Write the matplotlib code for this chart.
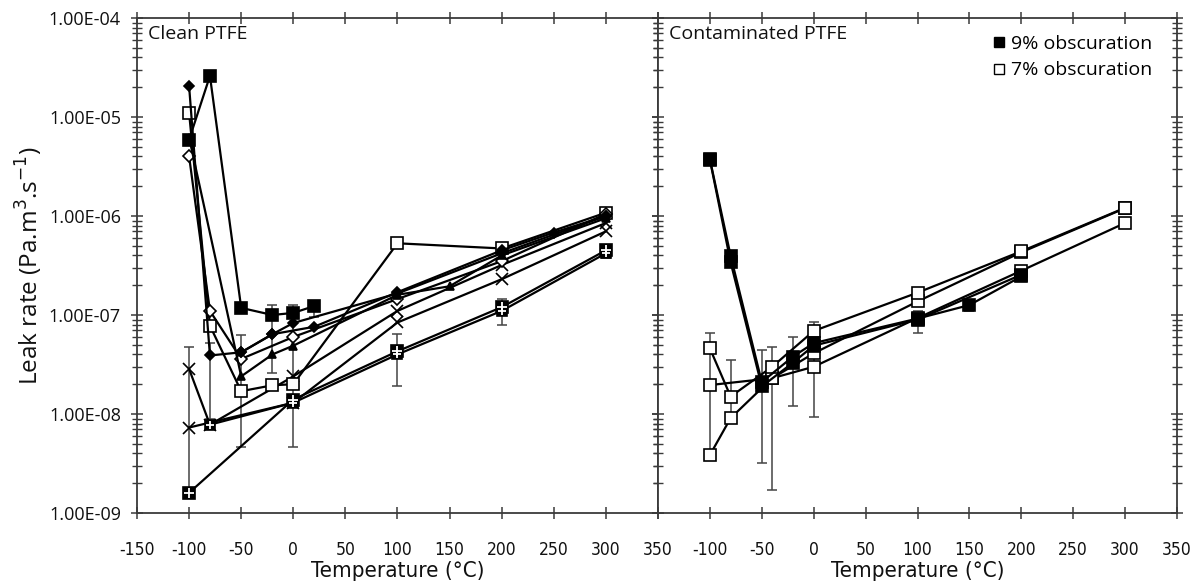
import matplotlib
matplotlib.use("Agg")
import matplotlib.pyplot as plt
from matplotlib.ticker import FixedLocator, FuncFormatter, LogLocator, NullFormatter
from matplotlib.lines import Line2D

plt.rcParams["axes.unicode_minus"] = False

# ---------------- data: Clean PTFE ----------------
clean_fsq_T = [-100, -80, -50, -20, 0, 20]
clean_fsq_v = [5.9e-6, 2.6e-5, 1.18e-7, 1.0e-7, 1.05e-7, 1.23e-7]

clean_fdia_T = [-100, -80, -50, -20, 20, 100, 200, 250, 300]
clean_fdia_v = [2.05e-5, 3.9e-8, 4.2e-8, 6.4e-8, 7.6e-8, 1.7e-7, 4.5e-7, 6.8e-7, 1.0e-6]

clean_fdia2_T = [-50, -20, 0, 100, 200, 300]
clean_fdia2_v = [4.2e-8, 6.4e-8, 8.3e-8, 1.65e-7, 4.2e-7, 1.0e-6]

clean_ftri_T = [-100, -50, -20, 0, 100, 150, 200, 300]
clean_ftri_v = [6.2e-6, 2.4e-8, 4.0e-8, 4.9e-8, 1.6e-7, 1.95e-7, 4.0e-7, 9.5e-7]

clean_odia_T = [-100, -80, -50, 0, 100, 200, 300]
clean_odia_v = [4.0e-6, 1.1e-7, 3.6e-8, 6.0e-8, 1.45e-7, 3.5e-7, 1.05e-6]

clean_osq_T = [-100, -80, -50, -20, 0, 100, 200, 300]
clean_osq_v = [1.1e-5, 7.8e-8, 1.7e-8, 1.95e-8, 2.0e-8, 5.3e-7, 4.7e-7, 1.08e-6]

clean_x_T = [-100, -80, 0, 100, 200, 300]
clean_x_v = [2.85e-8, 7.8e-9, 2.4e-8, 1.1e-7, 3.2e-7, 8.5e-7]

clean_ast_T = [-100, 0, 100, 200, 300]
clean_ast_v = [7.3e-9, 1.3e-8, 8.4e-8, 2.3e-7, 7.0e-7]

clean_plus_T = [-100, 0, 100, 200, 300]
clean_plus_v = [1.6e-9, 1.4e-8, 4.3e-8, 1.2e-7, 4.5e-7]

clean_plus2_T = [-80, 0, 100, 200, 300]
clean_plus2_v = [7.8e-9, 1.3e-8, 4.0e-8, 1.1e-7, 4.2e-7]

clean_err_T = [-100, -80, -50, -20, 0, 20, 100, 200, 300]
clean_err_lo = [1.6e-9, 9e-9, 4.6e-9, 2.6e-8, 4.6e-9, 9.5e-8, 1.9e-8, 8e-8, 3.8e-7]
clean_err_hi = [4.8e-8, 5.2e-8, 6.3e-8, 1.25e-7, 1.25e-7, 1.35e-7, 6.5e-8, 1.45e-7, 4.9e-7]

# ---------------- data: Contaminated PTFE ----------------
cont_f1_T = [-100, -80, -50, -20, 0, 100, 150, 200]
cont_f1_v = [3.74e-6, 3.95e-7, 2.1e-8, 3.8e-8, 5.2e-8, 9.2e-8, 1.26e-7, 2.45e-7]

cont_f2_T = [-100, -80, -50, -20, 0, 100, 200]
cont_f2_v = [3.7e-6, 3.4e-7, 1.9e-8, 3.3e-8, 4.9e-8, 9.0e-8, 2.55e-7]

cont_o1_T = [-100, -80, -40, 0, 100, 200, 300]
cont_o1_v = [4.6e-8, 1.5e-8, 3.0e-8, 6.9e-8, 1.68e-7, 4.4e-7, 1.21e-6]

cont_o2_T = [-100, -40, 0, 100, 200, 300]
cont_o2_v = [1.96e-8, 2.3e-8, 4.1e-8, 1.37e-7, 4.3e-7, 1.2e-6]

cont_o3_T = [-100, -80, -40, 0, 100, 200, 300]
cont_o3_v = [3.85e-9, 9.1e-9, 2.3e-8, 3.0e-8, 9.3e-8, 2.8e-7, 8.5e-7]

cont_err_T = [-100, -80, -50, -40, -20, 0, 100, 150]
cont_err_lo = [3.85e-9, 9e-9, 3.2e-9, 1.7e-9, 1.2e-8, 9.4e-9, 6.6e-8, 1.1e-7]
cont_err_hi = [6.6e-8, 3.5e-8, 4.4e-8, 4.8e-8, 6.0e-8, 8.5e-8, 1.1e-7, 1.4e-7]

x_ticks = [-150, -100, -50, 0, 50, 100, 150, 200, 250, 300, 350]
y_ticks = [1e-9, 1e-8, 1e-7, 1e-6, 1e-5, 1e-4]
panel_titles = ["Clean PTFE", "Contaminated PTFE"]
legend_labels = ["9% obscuration", "7% obscuration"]

# ---------------- figure ----------------
fig = plt.figure(figsize=(12.02, 5.87), dpi=100)
L, R, B, T = 137 / 1202, 1177 / 1202, 1 - 513 / 587, 1 - 18 / 587
mid = 658 / 1202
ax1 = fig.add_axes([L, B, mid - L, T - B])
ax2 = fig.add_axes([mid, B, R - mid, T - B])

NARROW = ["DejaVu Sans"]
SANS = ["Open Sans", "DejaVu Sans"]
spine_c = "#3a3a3a"


def styled(ax, T_, v_, marker, ms, mfc, extra_plus=False):
    ax.plot(T_, v_, color="black", lw=1.6, marker=marker, ms=ms, mfc=mfc,
            mec="black", mew=1.2, zorder=3)
    if extra_plus:
        ax.plot(T_, v_, ls="none", marker="+", ms=ms * 0.9, mec="white",
                mew=1.3, zorder=4)


def errs(ax, T_, lo, hi):
    ax.vlines(T_, lo, hi, color="#444444", lw=1.1, zorder=2)
    ax.plot(T_, lo, ls="none", marker="_", ms=7, mec="#444444", mew=1.1, zorder=2)
    ax.plot(T_, hi, ls="none", marker="_", ms=7, mec="#444444", mew=1.1, zorder=2)


# Clean panel
errs(ax1, clean_err_T, clean_err_lo, clean_err_hi)
styled(ax1, clean_plus_T, clean_plus_v, "s", 8, "black", extra_plus=True)
styled(ax1, clean_plus2_T, clean_plus2_v, "s", 7, "black", extra_plus=True)
styled(ax1, clean_ast_T, clean_ast_v, "x", 9, "white")
styled(ax1, clean_x_T, clean_x_v, "x", 9, "white")
styled(ax1, clean_osq_T, clean_osq_v, "s", 8, "white")
styled(ax1, clean_odia_T, clean_odia_v, "D", 6, "white")
styled(ax1, clean_ftri_T, clean_ftri_v, "^", 6, "black")
styled(ax1, clean_fdia2_T, clean_fdia2_v, "D", 5, "black")
styled(ax1, clean_fdia_T, clean_fdia_v, "D", 5, "black")
styled(ax1, clean_fsq_T, clean_fsq_v, "s", 9, "black")

# Contaminated panel
errs(ax2, cont_err_T, cont_err_lo, cont_err_hi)
styled(ax2, cont_o3_T, cont_o3_v, "s", 9, "white")
styled(ax2, cont_o2_T, cont_o2_v, "s", 9, "white")
styled(ax2, cont_o1_T, cont_o1_v, "s", 9, "white")
styled(ax2, cont_f2_T, cont_f2_v, "s", 9, "black")
styled(ax2, cont_f1_T, cont_f1_v, "s", 9, "black")

for i, ax in enumerate((ax1, ax2)):
    ax.set_yscale("log")
    ax.set_ylim(1e-9, 1e-4)
    ax.set_xlim(-150, 350)
    ax.xaxis.set_major_locator(FixedLocator(x_ticks))
    ax.yaxis.set_major_locator(FixedLocator(y_ticks))
    ax.yaxis.set_minor_locator(LogLocator(base=10, subs=range(2, 10), numticks=20))
    ax.yaxis.set_minor_formatter(NullFormatter())
    for s in ax.spines.values():
        s.set_color(spine_c)
        s.set_linewidth(1.3)
    ax.tick_params(axis="both", which="major", direction="inout", length=9,
                   width=1.1, color=spine_c, top=True, right=True, left=True,
                   bottom=True)
    ax.tick_params(axis="y", which="minor", direction="inout", length=7,
                   width=1.0, color=spine_c, left=True, right=True)
    ax.tick_params(axis="x", labelsize=12.5, pad=16, labelcolor="#111111")
    ax.set_xlabel("Temperature (°C)", family=NARROW, stretch="condensed",
                  fontsize=16, color="#111111", labelpad=1)
    ax.text(0.022, 0.985, panel_titles[i], transform=ax.transAxes, ha="left",
            va="top", fontsize=14, family=SANS, color="#111111")

ax1.yaxis.set_major_formatter(FuncFormatter(lambda v, p: f"{v:.2E}"))
ax1.tick_params(axis="y", labelsize=13, pad=7, labelcolor="#111111")
ax1.set_ylabel("Leak rate (Pa.m$^3$.s$^{-1}$)", family=SANS, fontsize=17.5,
               color="#111111", labelpad=3)

ax2.tick_params(axis="y", labelleft=False)
ax2.xaxis.set_major_formatter(FuncFormatter(lambda v, p: "" if v == -150 else f"{v:g}"))

fig.canvas.draw()
for ax in (ax1, ax2):
    for lab in ax.get_xticklabels():
        lab.set_family(NARROW)
        lab.set_stretch("condensed")
for lab in ax1.get_yticklabels():
    lab.set_family(SANS)

# legend
handles = [Line2D([], [], ls="none", marker="s", ms=7, mfc="black", mec="black"),
           Line2D([], [], ls="none", marker="s", ms=7, mfc="white", mec="black")]
ax2.legend(handles, legend_labels, loc="upper right", frameon=False,
           prop={"family": SANS, "size": 14}, handlelength=0.6,
           handletextpad=0.3, labelspacing=0.45, borderaxespad=0.2,
           bbox_to_anchor=(0.975, 0.99))

fig.savefig("out.png", dpi=100)
